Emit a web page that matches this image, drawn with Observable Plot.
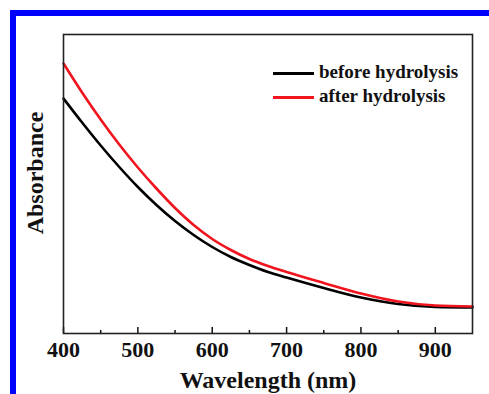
<!DOCTYPE html>
<html>
<head>
<meta charset="utf-8">
<script src="https://cdn.jsdelivr.net/npm/d3@7"></script>
<script src="https://cdn.jsdelivr.net/npm/@observablehq/plot@0.6"></script>
<style>
  html, body { margin: 0; padding: 0; background: #fff; }
  #wrap { position: relative; width: 489px; height: 394px; overflow: hidden; }
  #border { position: absolute; left: 10px; top: 10px; width: 479px; height: 384px;
            border-top: 6px solid #0000ff; border-left: 6px solid #0000ff; box-sizing: border-box; }
  #chart { position: absolute; left: 0; top: 0; }
  .leg { position: absolute; font-family: "Liberation Serif", "Times New Roman", serif;
         font-weight: bold; font-size: 19px; color: #111; white-space: nowrap; }
  .legline { position: absolute; height: 3px; width: 41px; }
</style>
</head>
<body>
<div id="wrap">
  <div id="border"></div>
  <div id="chart"></div>
</div>
<script>
const wavelength = [400, 425, 450, 475, 500, 525, 550, 575, 600, 625, 650, 675, 700, 750, 800, 850, 900, 950];
const beforeHydrolysis = [2.35, 2.11, 1.88, 1.665, 1.465, 1.285, 1.125, 0.985, 0.865, 0.765, 0.685, 0.615, 0.56, 0.455, 0.36, 0.295, 0.265, 0.26];
const afterHydrolysis  = [2.70, 2.41, 2.14, 1.89, 1.66, 1.45, 1.255, 1.085, 0.945, 0.835, 0.745, 0.675, 0.615, 0.505, 0.40, 0.32, 0.28, 0.27];
const seriesNames = ["before hydrolysis", "after hydrolysis"];
const seriesColors = ["#000000", "#f0141e"];
const majorTicks = [400, 500, 600, 700, 800, 900];
const minorTicks = [450, 550, 650, 750, 850];
const xLabel = "Wavelength (nm)";
const yLabel = "Absorbance";

const rows = [];
wavelength.forEach((w, i) => {
  rows.push({w, a: beforeHydrolysis[i], s: seriesNames[0]});
  rows.push({w, a: afterHydrolysis[i], s: seriesNames[1]});
});

const font = "'Liberation Serif', 'Times New Roman', serif";
const chart = Plot.plot({
  width: 489,
  height: 394,
  marginLeft: 63,
  marginRight: 17,
  marginTop: 34,
  marginBottom: 61,
  style: {background: "transparent", fontFamily: font, fontWeight: "bold", color: "#111"},
  x: {domain: [400, 950]},
  y: {domain: [0, 2.99], axis: null},
  color: {domain: seriesNames, range: seriesColors},
  marks: [
    Plot.line(rows, {x: "w", y: "a", z: "s", stroke: "s", strokeWidth: 2.6, curve: "monotone-x"}),
    Plot.axisX({ticks: majorTicks, tickSize: -6, text: null, label: null, strokeWidth: 1.5}),
    Plot.axisX({ticks: minorTicks, tickSize: -3, text: null, label: null, strokeWidth: 1.5}),
    Plot.axisX({ticks: majorTicks, tickSize: 0, tickPadding: 8, fontSize: 22, label: null, tickFormat: d => String(d)}),
    Plot.axisX({ticks: [], tickSize: 0, fontSize: 24, label: xLabel, labelAnchor: "center", labelArrow: "none", labelOffset: 54}),
    Plot.text([yLabel], {frameAnchor: "left", textAnchor: "middle", rotate: -90, dx: -28, dy: -11, fontSize: 24, fontWeight: "bold", fill: "#111"}),
    Plot.frame({stroke: "#222", strokeWidth: 1.6})
  ]
});
document.getElementById("chart").appendChild(chart);

// legend
const wrap = document.getElementById("wrap");
const legY = [73, 97];
seriesNames.forEach((name, i) => {
  const ln = document.createElement("div");
  ln.className = "legline";
  ln.style.left = "273px";
  ln.style.top = (legY[i] - 1.5) + "px";
  ln.style.background = seriesColors[i];
  wrap.appendChild(ln);
  const t = document.createElement("div");
  t.className = "leg";
  t.textContent = name;
  t.style.left = "319px";
  t.style.top = (legY[i] - 12) + "px";
  wrap.appendChild(t);
});
</script>
</body>
</html>
